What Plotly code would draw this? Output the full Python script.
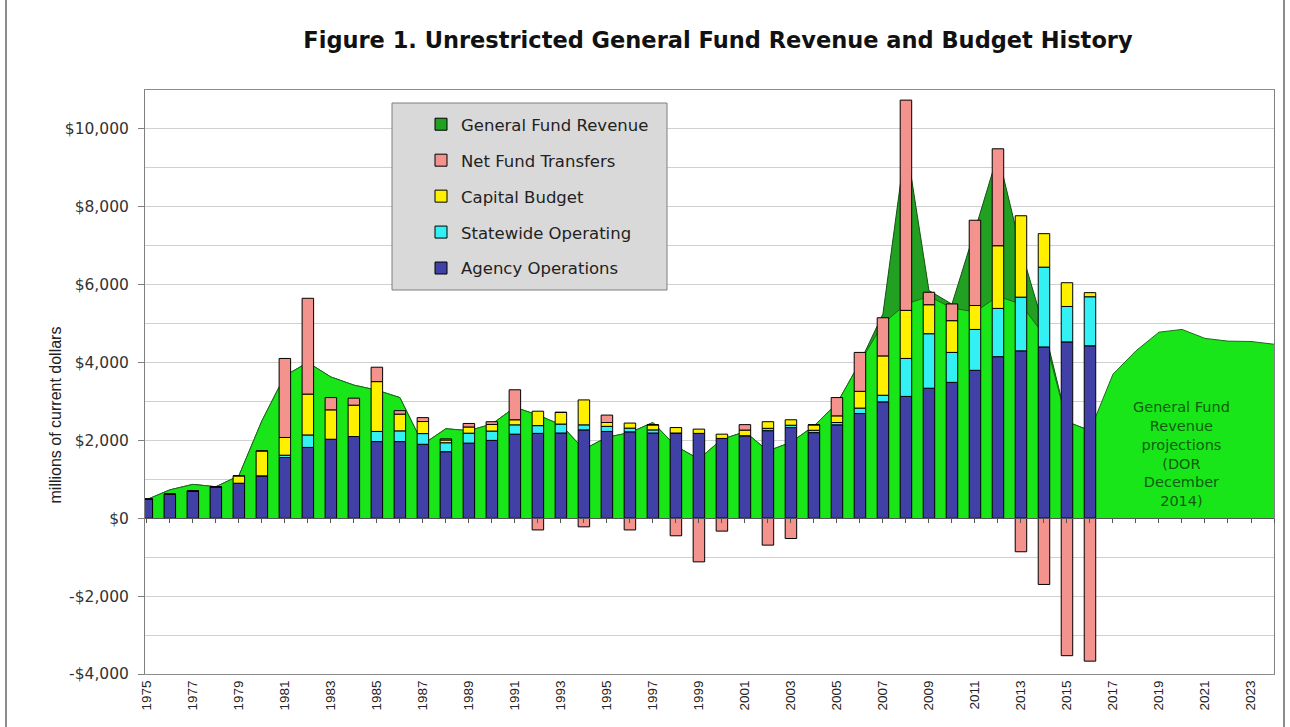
import plotly.graph_objects as go

# ---------------- data ----------------
bar_years = list(range(1975, 2017))
all_years = list(range(1975, 2025))

agency = [490, 620, 700, 810, 900, 1090, 1560, 1820, 2030, 2100, 1970, 1970, 1900, 1710,
          1930, 2000, 2160, 2180, 2190, 2270, 2230, 2220, 2190, 2190, 2180, 2050, 2120, 2250,
          2330, 2200, 2400, 2690, 2990, 3130, 3340, 3490, 3800, 4150, 4300, 4400, 4530, 4430]
statewide = [0, 0, 0, 0, 0, 0, 60, 320, 0, 0, 260, 275, 275, 230, 255, 240, 240, 200, 230,
             130, 130, 95, 80, 0, 0, 0, 0, 60, 60, 60, 60, 140, 170, 975, 1400, 770, 1050,
             1240, 1380, 2050, 910, 1260]
capital = [0, 0, 0, 0, 190, 640, 455, 1050, 755, 805, 1280, 430, 310, 70, 160, 170, 130, 370,
           300, 640, 100, 130, 130, 140, 110, 110, 145, 170, 140, 140, 170, 430, 1010, 1235,
           745, 815, 615, 1610, 2090, 860, 610, 105]
transfers = [0, 0, 0, 0, 0, 0, 2030, 2460, 315, 180, 370, 90, 100, 30, 90, 70, 770, -300, 0,
             -220, 190, -300, 0, -450, -1120, -330, 140, -690, -520, 0, 470, 1000, 980, 5400,
             320, 430, 2190, 2490, -860, -1700, -3530, -3670]

# General Fund Revenue (actual), 1975-2016
revenue = [480, 730, 870, 810, 1090, 2500, 3660, 4000, 3630, 3420, 3290, 3100, 1900, 2300,
           2250, 2420, 2850, 2650, 2400, 1770, 2080, 2200, 2460, 1850, 1520, 2030, 2220, 1730,
           1950, 2370, 2950, 4000, 5250, 9650, 5850, 5500, 7400, 9350, 6900, 4900, 2480, 2250]

# light-green revenue band incl. DOR December 2014 projections, 1975-2024
revenue_proj = [480, 730, 870, 810, 1090, 2500, 3660, 4000, 3630, 3420, 3290, 3100, 1900, 2300,
                2250, 2420, 2850, 2650, 2400, 1770, 2080, 2200, 2460, 1850, 1520, 2030, 2220,
                1730, 1950, 2370, 2950, 4000, 5000, 5500, 5700, 5400, 5300, 5700, 5500, 4700,
                2480, 2250, 3700, 4300, 4780, 4850, 4620, 4550, 4540, 4470]

y_ticks = [-4000, -2000, 0, 2000, 4000, 6000, 8000, 10000]
y_ticktext = ["-$4,000", "-$2,000", "$0", "$2,000", "$4,000", "$6,000", "$8,000", "$10,000"]
x_ticks = list(range(1975, 2024, 2))
x_ticktext = [str(v) for v in x_ticks]

# ---------------- style ----------------
FONT = "Liberation Sans, Arial, sans-serif"
WIDE = "DejaVu Sans, Verdana, sans-serif"
C_AGENCY = "#4040A6"
C_STATE = "#33F0F5"
C_CAP = "#FFF000"
C_TRANS = "#F4928E"
C_DARKG = "#21A021"
C_LIGHTG = "#19E619"
XR = [1974.92, 2024]
YR = [-4000, 11000]

fig = go.Figure()

# areas on main axes (drawn beneath bars)
fig.add_trace(go.Scatter(x=bar_years, y=revenue, mode="lines", fill="tozeroy",
                         fillcolor=C_DARKG, line=dict(color="#145214", width=1),
                         name="General Fund Revenue", showlegend=False, hoverinfo="x+y"))
fig.add_trace(go.Scatter(x=all_years, y=revenue_proj, mode="lines", fill="tozeroy",
                         fillcolor=C_LIGHTG, line=dict(color="#1C6A1C", width=1),
                         name="projections", showlegend=False, hoverinfo="x+y"))

# bars on overlaying axes
bar_line = dict(color="#000000", width=1)
for name, vals, col, rank in [("Agency Operations", agency, C_AGENCY, 5),
                              ("Statewide Operating", statewide, C_STATE, 4),
                              ("Capital Budget", capital, C_CAP, 3),
                              ("Net Fund Transfers", transfers, C_TRANS, 2)]:
    fig.add_trace(go.Bar(x=bar_years, y=vals, name=name, marker=dict(color=col, line=bar_line),
                         width=0.5, xaxis="x2", yaxis="y2", legendrank=rank, legendgroup=name))

# legend entry for revenue (square icon like the original)
fig.add_trace(go.Bar(x=[None], y=[None], name="General Fund Revenue",
                     marker=dict(color=C_DARKG, line=bar_line), xaxis="x2", yaxis="y2",
                     legendrank=1, legendgroup="gfr"))

# zero-line category axis with tick marks
fig.add_trace(go.Scatter(x=[bar_years[0]], y=[0], mode="markers", marker=dict(opacity=0),
                         xaxis="x3", yaxis="y", showlegend=False, hoverinfo="skip"))

fig.update_layout(
    width=1290, height=727,
    margin=dict(l=145, r=16, t=90, b=53),
    paper_bgcolor="white", plot_bgcolor="white",
    font=dict(family=FONT, color="#222222"),
    barmode="relative",
    showlegend=True,
    title=dict(text="<b>Figure 1. Unrestricted General Fund Revenue and Budget History</b>",
               x=0.5075, xanchor="center", xref="paper", y=1 - 40 / 727, yref="container",
               yanchor="middle", font=dict(size=22.5, family=WIDE, color="#111111")),
    xaxis=dict(range=XR, tickmode="array", tickvals=x_ticks, ticktext=x_ticktext,
               tickangle=-90, ticks="", showgrid=False, zeroline=False, showline=True,
               mirror=True, linecolor="#8C8C8C", linewidth=1,
               tickfont=dict(size=13.5, color="#222222", family=FONT)),
    yaxis=dict(range=YR, tickmode="array", tickvals=y_ticks, ticktext=y_ticktext,
               ticks="outside", ticklen=6, tickcolor="#808080", showgrid=True,
               gridcolor="#D0D0D0", gridwidth=1, zeroline=False, showline=True, mirror=True,
               linecolor="#808080", linewidth=1, ticklabelstandoff=6,
               tickfont=dict(size=15.5, color="#333333", family=WIDE),
               minor=dict(tickmode="linear", tick0=0, dtick=1000, showgrid=True,
                          gridcolor="#D0D0D0", ticks="")),
    xaxis2=dict(range=XR, overlaying="x", visible=False),
    yaxis2=dict(range=YR, overlaying="y", visible=False),
    xaxis3=dict(range=XR, overlaying="x", anchor="free", position=4000 / 15000,
                showline=True, linecolor="#555555", linewidth=1, ticks="outside",
                ticklen=4, tickcolor="#555555", tickmode="linear", tick0=1975, dtick=1,
                showticklabels=False, showgrid=False, zeroline=False),
    legend=dict(x=(421 - 145) / 1129, y=(674 - 107) / 584, xanchor="left", yanchor="top",
                bgcolor="rgba(0,0,0,0)", borderwidth=0, traceorder="grouped",
                tracegroupgap=11.5, font=dict(size=16.5, color="#222222", family=WIDE),
                itemwidth=30),
)

# legend box
fig.add_shape(type="rect", xref="paper", yref="paper",
              x0=(392 - 145) / 1129, x1=(667 - 145) / 1129,
              y0=(674 - 290) / 584, y1=(674 - 103) / 584,
              fillcolor="#D9D9D9", line=dict(color="#7F7F7F", width=1), layer="above")

# outer frame side lines
for xp in [(6 - 145) / 1129, (1284 - 145) / 1129]:
    fig.add_shape(type="line", xref="paper", yref="paper", x0=xp, x1=xp, y0=-0.2, y1=1.3,
                  line=dict(color="#8C8C8C", width=2))

fig.add_annotation(text="millions of current dollars", xref="paper", yref="paper",
                   x=(45 - 145) / 1129, y=(674 - 415) / 584, textangle=-90, showarrow=False,
                   font=dict(size=16, color="#222222", family=FONT))
fig.add_annotation(text="General Fund<br>Revenue<br>projections<br>(DOR<br>December<br>2014)",
                   xref="x", yref="y", x=2020.0, y=1650, showarrow=False,
                   font=dict(size=14.5, color="#0E5E0E", family=WIDE))

fig.write_html("out.html", config={"displayModeBar": False},
               post_script="document.body.style.margin='0px';document.body.style.overflow='hidden';")
